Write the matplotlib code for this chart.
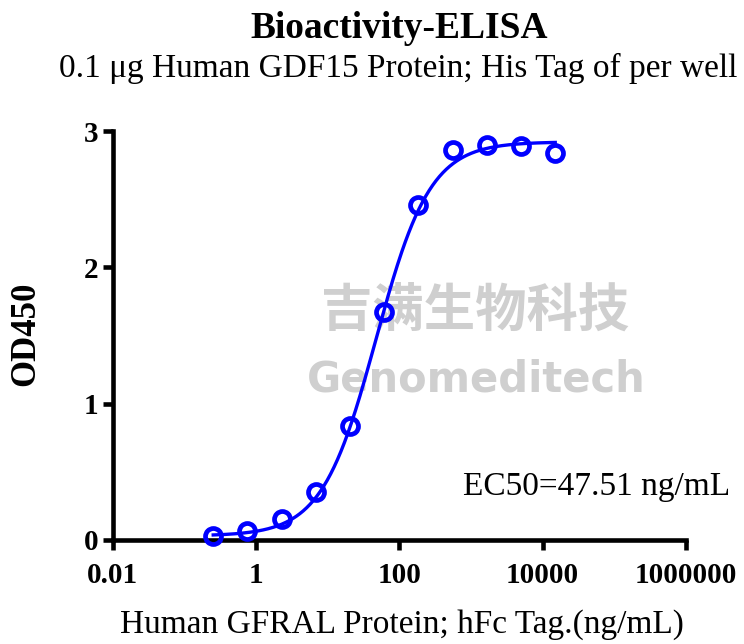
import numpy as np
import matplotlib
matplotlib.use("Agg")
import matplotlib.pyplot as plt
from matplotlib.ticker import FixedLocator, FixedFormatter, NullLocator

# ---- data ----
conc = [0.254, 0.762, 2.29, 6.86, 20.6, 61.7, 185, 556, 1667, 5000, 15000]
od450 = [0.032, 0.069, 0.154, 0.350, 0.836, 1.669, 2.454, 2.863, 2.895, 2.890, 2.841]
# 4PL fit parameters
fit_bottom = 0.03
fit_top = 2.92
fit_ec50 = 47.51
fit_hill = 1.15
xticks = [0.01, 1, 100, 10000, 1000000]
xtick_labels = ["0.01", "1", "100", "10000", "1000000"]
yticks = [0, 1, 2, 3]

plt.rcParams['font.family'] = ['Liberation Serif', 'DejaVu Serif']

W, H = 744, 644
fig = plt.figure(figsize=(W / 100, H / 100), dpi=100)
ax = fig.add_axes([112.5 / W, 1 - 540 / H, (686 - 112.5) / W, (540 - 131) / H])

# watermark (beneath the data)
ax.text(475 / W, 1 - 310 / H, "吉满生物科技", family=['Noto Sans CJK SC'], fontsize=37,
        fontweight='bold', color='#cfcfcf', ha='center', va='center', zorder=0,
        transform=fig.transFigure)
ax.text(476 / W, 1 - 380 / H, "Genomeditech", family=['DejaVu Sans'], fontsize=30,
        fontweight='bold', color='#cfcfcf', ha='center', va='center', zorder=0,
        transform=fig.transFigure)

xf = np.logspace(np.log10(conc[0]), np.log10(conc[-1]), 400)
yf = fit_bottom + (fit_top - fit_bottom) / (1 + (fit_ec50 / xf) ** fit_hill)
ax.plot(xf, yf, color='#0000ff', lw=2.4, zorder=3)
ax.plot(conc, od450, linestyle='none', marker='o', markersize=11.5, markerfacecolor='none',
        markeredgecolor='#0000ff', markeredgewidth=3.4, zorder=4, clip_on=False)

ax.set_xscale('log')
ax.set_xlim(0.01, 1000000)
ax.set_ylim(0, 3)
ax.xaxis.set_major_locator(FixedLocator(xticks))
ax.xaxis.set_major_formatter(FixedFormatter(xtick_labels))
ax.xaxis.set_minor_locator(NullLocator())
ax.set_yticks(yticks)
ax.set_yticklabels([str(v) for v in yticks])

for s in ['top', 'right']:
    ax.spines[s].set_visible(False)
for s in ['left', 'bottom']:
    ax.spines[s].set_linewidth(3.3)
ax.tick_params(axis='both', which='major', direction='out', length=7, width=3.3,
               labelsize=21)
ax.tick_params(axis='x', pad=9)
ax.tick_params(axis='y', pad=3)
for lab in ax.get_xticklabels() + ax.get_yticklabels():
    lab.set_fontweight('bold')
ax.patch.set_alpha(0)

fig.text(402 / W, 1 - 625 / H, "Human GFRAL Protein; hFc Tag.(ng/mL)", fontsize=24,
         ha='center', va='center')
fig.text(26 / W, 1 - 334 / H, "OD450", fontsize=25, fontweight='bold',
         rotation=90, ha='center', va='center')

fig.text(730 / W, 1 - 487 / H, "EC50=47.51 ng/mL", fontsize=24,
         ha='right', va='center')

fig.text(399 / W, 1 - 28 / H, "Bioactivity-ELISA", fontsize=27, fontweight='bold',
         ha='center', va='center')
fig.text(398 / W, 1 - 68 / H, "0.1 μg Human GDF15 Protein; His Tag of per well", fontsize=24,
         ha='center', va='center')

fig.savefig("out.png", dpi=100)
